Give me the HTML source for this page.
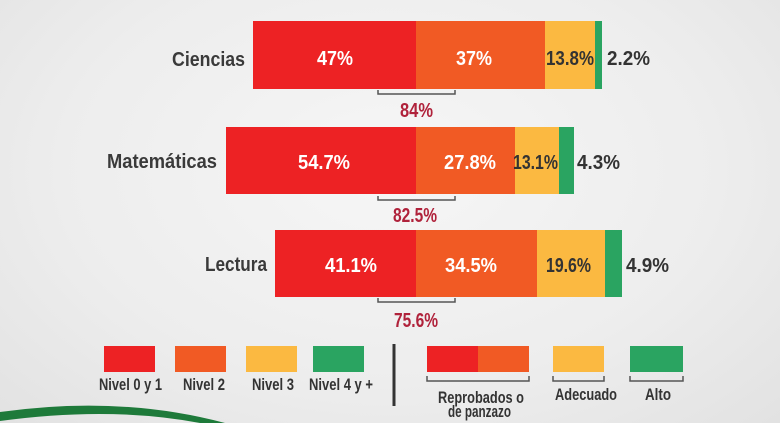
<!DOCTYPE html>
<html><head><meta charset="utf-8"><style>
html,body{margin:0;padding:0;width:780px;height:423px;overflow:hidden}
body{background:radial-gradient(ellipse at 50% 40%,#f6f6f6 0%,#ededed 60%,#e2e2e2 100%)}
svg{position:absolute;left:0;top:0}
text{font-family:"Liberation Sans",sans-serif;font-weight:bold}
</style></head><body>
<svg width="780" height="423" viewBox="0 0 780 423">
<g font-size="20" fill="#3a3a3a" lengthAdjust="spacingAndGlyphs">
<text x="172" y="66" textLength="73" lengthAdjust="spacingAndGlyphs">Ciencias</text>
<text x="107" y="168" textLength="110" lengthAdjust="spacingAndGlyphs">Matemáticas</text>
<text x="205" y="271" textLength="62" lengthAdjust="spacingAndGlyphs">Lectura</text>
</g>
<rect x="253" y="21" width="163" height="68" fill="#ed2224"/>
<rect x="416" y="21" width="129" height="68" fill="#f15a24"/>
<rect x="545" y="21" width="50" height="68" fill="#fbb941"/>
<rect x="595" y="21" width="7" height="68" fill="#2aa461"/>
<rect x="226" y="127" width="190" height="67" fill="#ed2224"/>
<rect x="416" y="127" width="99" height="67" fill="#f15a24"/>
<rect x="515" y="127" width="44" height="67" fill="#fbb941"/>
<rect x="559" y="127" width="15" height="67" fill="#2aa461"/>
<rect x="275" y="230" width="141" height="67" fill="#ed2224"/>
<rect x="416" y="230" width="121" height="67" fill="#f15a24"/>
<rect x="537" y="230" width="68" height="67" fill="#fbb941"/>
<rect x="605" y="230" width="17" height="67" fill="#2aa461"/>
<g font-size="20" fill="#fff">
<text x="317" y="65" textLength="36" lengthAdjust="spacingAndGlyphs">47%</text>
<text x="456" y="65" textLength="36" lengthAdjust="spacingAndGlyphs">37%</text>
<text x="298" y="169" textLength="52" lengthAdjust="spacingAndGlyphs">54.7%</text>
<text x="444" y="169" textLength="52" lengthAdjust="spacingAndGlyphs">27.8%</text>
<text x="325" y="272" textLength="52" lengthAdjust="spacingAndGlyphs">41.1%</text>
<text x="445" y="272" textLength="52" lengthAdjust="spacingAndGlyphs">34.5%</text>
</g>
<g font-size="20" fill="#333">
<text x="546" y="65" textLength="48" lengthAdjust="spacingAndGlyphs">13.8%</text>
<text x="607" y="65" textLength="43" lengthAdjust="spacingAndGlyphs">2.2%</text>
<text x="513" y="169" textLength="45" lengthAdjust="spacingAndGlyphs">13.1%</text>
<text x="577" y="169" textLength="43" lengthAdjust="spacingAndGlyphs">4.3%</text>
<text x="546" y="272" textLength="45" lengthAdjust="spacingAndGlyphs">19.6%</text>
<text x="626" y="272" textLength="43" lengthAdjust="spacingAndGlyphs">4.9%</text>
</g>
<g stroke="#555" stroke-width="1.5" fill="none">
<path d="M378 90V94H455V90"/><path d="M378 196V200H455V196"/><path d="M378 298V302H455V298"/>
<path d="M427 376V381H529V376"/><path d="M553 376V381H604V376"/><path d="M630 376V381H683V376"/>
</g>
<line x1="394" y1="344" x2="394" y2="406" stroke="#333" stroke-width="3"/>
<g font-size="20" fill="#b0223b">
<text x="400" y="117" textLength="33" lengthAdjust="spacingAndGlyphs">84%</text>
<text x="393" y="222" textLength="44" lengthAdjust="spacingAndGlyphs">82.5%</text>
<text x="394" y="327" textLength="44" lengthAdjust="spacingAndGlyphs">75.6%</text>
</g>
<rect x="104" y="346" width="51" height="26" fill="#ed2224"/>
<rect x="175" y="346" width="51" height="26" fill="#f15a24"/>
<rect x="246" y="346" width="51" height="26" fill="#fbb941"/>
<rect x="313" y="346" width="51" height="26" fill="#2aa461"/>
<rect x="427" y="346" width="51" height="26" fill="#ed2224"/>
<rect x="478" y="346" width="51" height="26" fill="#f15a24"/>
<rect x="553" y="346" width="51" height="26" fill="#fbb941"/>
<rect x="630" y="346" width="53" height="26" fill="#2aa461"/>
<g font-size="17" fill="#333">
<text x="99" y="390" textLength="63" lengthAdjust="spacingAndGlyphs">Nivel 0 y 1</text>
<text x="183" y="390" textLength="42" lengthAdjust="spacingAndGlyphs">Nivel 2</text>
<text x="252" y="390" textLength="42" lengthAdjust="spacingAndGlyphs">Nivel 3</text>
<text x="309" y="390" textLength="64" lengthAdjust="spacingAndGlyphs">Nivel 4 y +</text>
<text x="438" y="403" textLength="86" lengthAdjust="spacingAndGlyphs">Reprobados o</text>
<text x="448" y="417" textLength="63" lengthAdjust="spacingAndGlyphs">de panzazo</text>
<text x="555" y="400" textLength="62" lengthAdjust="spacingAndGlyphs">Adecuado</text>
<text x="645" y="400" textLength="26" lengthAdjust="spacingAndGlyphs">Alto</text>
</g>
<path d="M0 412Q120 395 225 423L200 423Q110 406 0 421Z" fill="#1e7a3a"/>
</svg>
</body></html>
